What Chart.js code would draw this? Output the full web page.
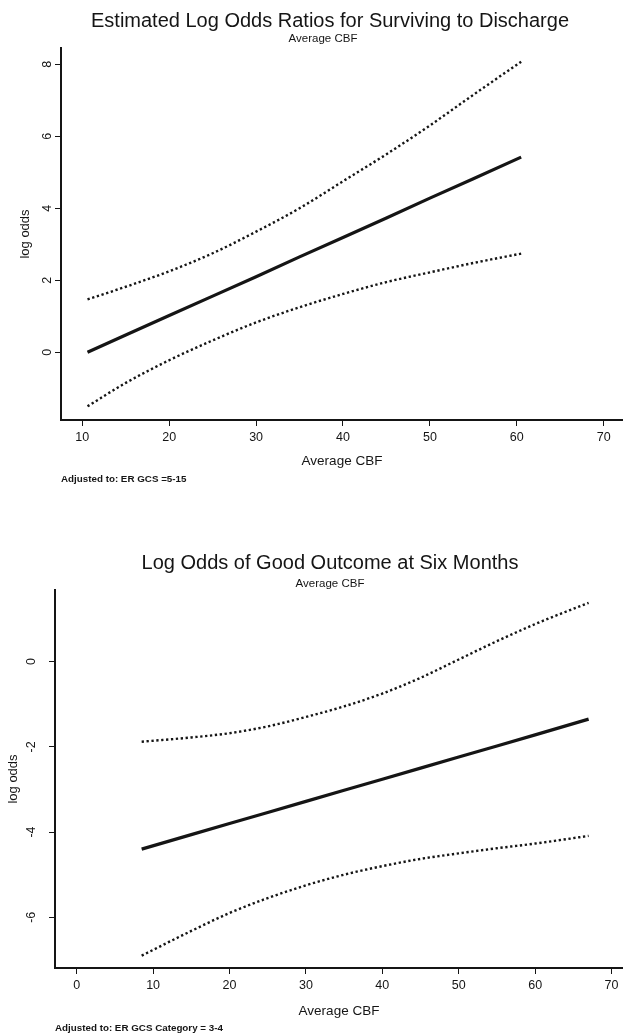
<!DOCTYPE html>
<html><head><meta charset="utf-8">
<script src="https://cdn.jsdelivr.net/npm/chart.js@4.4.1/dist/chart.umd.min.js"></script>
<style>
html,body{margin:0;padding:0;background:#fff;width:623px;height:1036px;overflow:hidden;}
.box{position:absolute;left:0;width:623px;}
</style></head><body>
<div class="box" style="top:0;height:520px"><canvas id="c1" width="623" height="520"></canvas></div>
<div class="box" style="top:520px;height:516px"><canvas id="c2" width="623" height="516"></canvas></div>
<script>
// ---- Chart 1: Estimated Log Odds Ratios for Surviving to Discharge ----
const cbf1   = [10.6, 15, 20, 25, 30, 35, 40, 45, 50, 55, 60.5];
const est1   = [0.00, 0.48, 1.02, 1.56, 2.10, 2.65, 3.19, 3.73, 4.28, 4.82, 5.42];
const upper1 = [1.47, 1.82, 2.25, 2.75, 3.35, 4.00, 4.75, 5.50, 6.30, 7.15, 8.07];
const lower1 = [-1.50, -0.85, -0.22, 0.33, 0.83, 1.25, 1.62, 1.95, 2.22, 2.48, 2.74];
const xTicks1 = [10, 20, 30, 40, 50, 60, 70];
const yTicks1 = [0, 2, 4, 6, 8];

// ---- Chart 2: Log Odds of Good Outcome at Six Months ----
const cbf2   = [8.5, 15, 20, 25, 30, 35, 40, 45, 50, 55, 60, 67];
const est2   = [-4.40, -4.06, -3.80, -3.54, -3.28, -3.02, -2.76, -2.50, -2.24, -1.98, -1.72, -1.35];
const upper2 = [-1.88, -1.78, -1.68, -1.52, -1.30, -1.05, -0.75, -0.38, 0.05, 0.48, 0.88, 1.38];
const lower2 = [-6.90, -6.32, -5.90, -5.55, -5.25, -5.00, -4.80, -4.63, -4.50, -4.38, -4.27, -4.09];
const xTicks2 = [0, 10, 20, 30, 40, 50, 60, 70];
const yTicks2 = [-6, -4, -2, 0];

const FAM = '"Liberation Sans", Arial, Helvetica, sans-serif';
const INK = '#151515';

const pts = (xs, ys) => xs.map((x, i) => ({x, y: ys[i]}));

const textPlugin = {
  id: 'txt',
  afterDraw(chart, args, o) {
    const ctx = chart.ctx, ca = chart.chartArea, ys = chart.scales.y;
    ctx.save();
    ctx.fillStyle = INK;
    ctx.textAlign = 'center';
    ctx.textBaseline = 'middle';
    ctx.font = '20px ' + FAM;
    ctx.fillText(o.title, o.titleX, o.titleY);
    ctx.font = '11.5px ' + FAM;
    ctx.fillText(o.sub, o.subX, o.subY);
    // rotated y tick labels
    ctx.font = '12.5px ' + FAM;
    ys.ticks.forEach(t => {
      const py = ys.getPixelForValue(t.value);
      ctx.save();
      ctx.translate(o.yLabX, py);
      ctx.rotate(-Math.PI / 2);
      ctx.fillText(String(t.value), 0, 0);
      ctx.restore();
    });
    // y axis title
    ctx.font = '13px ' + FAM;
    ctx.save();
    ctx.translate(o.yTitleX, (ca.top + ca.bottom) / 2);
    ctx.rotate(-Math.PI / 2);
    ctx.fillText('log odds', 0, 0);
    ctx.restore();
    // x axis title
    ctx.font = '13.5px ' + FAM;
    ctx.fillText('Average CBF', (ca.left + ca.right) / 2, o.xTitleY);
    // footnote
    ctx.textAlign = 'left';
    ctx.font = 'bold 9.8px ' + FAM;
    ctx.fillText(o.foot, ca.left, o.footY);
    ctx.restore();
  }
};

function build(id, cfg) {
  const dsBase = {pointRadius: 0, borderColor: INK, fill: false};
  return new Chart(document.getElementById(id), {
    type: 'line',
    data: {
      datasets: [
        Object.assign({label: 'upper', data: pts(cfg.xs, cfg.up), borderWidth: 2.4, borderDash: [2.3, 2.6], cubicInterpolationMode: 'monotone'}, dsBase),
        Object.assign({label: 'estimate', data: pts(cfg.xs, cfg.est), borderWidth: 3.2, tension: 0}, dsBase),
        Object.assign({label: 'lower', data: pts(cfg.xs, cfg.lo), borderWidth: 2.4, borderDash: [2.3, 2.6], cubicInterpolationMode: 'monotone'}, dsBase)
      ]
    },
    options: {
      responsive: false,
      animation: false,
      devicePixelRatio: 1,
      layout: {padding: {top: cfg.padTop, left: 0, right: 0, bottom: 0}},
      plugins: {legend: {display: false}, tooltip: {enabled: false}, title: {display: false}, txt: cfg.txt},
      scales: {
        x: {
          type: 'linear', min: cfg.xMin, max: cfg.xMax,
          afterBuildTicks: s => { s.ticks = cfg.xTicks.map(v => ({value: v})); },
          ticks: {color: INK, font: {size: 12.5, family: FAM}, padding: 4, maxRotation: 0, autoSkip: false},
          grid: {drawOnChartArea: false, drawTicks: true, tickLength: 6, color: INK, lineWidth: 1},
          border: {display: true, color: INK, width: 2},
          afterFit: s => { s.height = cfg.xH; }
        },
        y: {
          type: 'linear', min: cfg.yMin, max: cfg.yMax,
          afterBuildTicks: s => { s.ticks = cfg.yTicks.map(v => ({value: v})); },
          ticks: {display: false},
          grid: {drawOnChartArea: false, drawTicks: true, tickLength: 6, color: INK, lineWidth: 1},
          border: {display: true, color: INK, width: 2},
          afterFit: s => { s.width = cfg.yW; }
        }
      }
    },
    plugins: [textPlugin]
  });
}

build('c1', {
  xs: cbf1, est: est1, up: upper1, lo: lower1,
  xTicks: xTicks1, yTicks: yTicks1,
  xMin: 7.55, xMax: 72.22, yMin: -1.88, yMax: 8.45,
  padTop: 48, yW: 61, xH: 100,
  txt: {title: 'Estimated Log Odds Ratios for Surviving to Discharge', titleX: 330, titleY: 21,
        sub: 'Average CBF', subX: 323, subY: 39,
        yLabX: 48, yTitleX: 25, xTitleY: 461, foot: 'Adjusted to: ER GCS =5-15', footY: 479}
});

build('c2', {
  xs: cbf2, est: est2, up: upper2, lo: lower2,
  xTicks: xTicks2, yTicks: yTicks2,
  xMin: -2.84, xMax: 71.5, yMin: -7.19, yMax: 1.68,
  padTop: 70, yW: 55, xH: 68,
  txt: {title: 'Log Odds of Good Outcome at Six Months', titleX: 330, titleY: 43,
        sub: 'Average CBF', subX: 330, subY: 64,
        yLabX: 32, yTitleX: 13, xTitleY: 491, foot: 'Adjusted to: ER GCS Category = 3-4', footY: 508}
});
</script>
</body></html>
